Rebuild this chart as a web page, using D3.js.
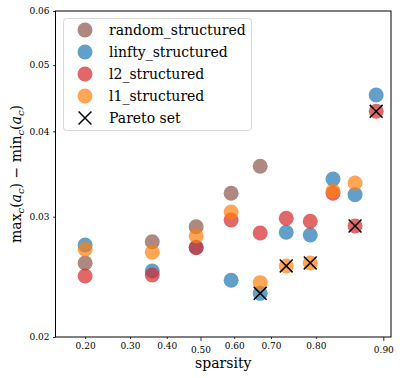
<!DOCTYPE html>
<html>
<head>
<meta charset="utf-8">
<script src="https://cdn.jsdelivr.net/npm/d3@7"></script>
<style>
  body { margin: 0; background: #fff; }
</style>
</head>
<body>
<div id="plot"></div>
<script>
// sparsity levels
let sparsity = [0.20, 0.359, 0.487, 0.591, 0.672, 0.737, 0.789, 0.831, 0.865, 0.892];

let randomY = [0.02566, 0.02757, 0.02900, 0.03246, 0.03555];
let linftyY = [0.02727, 0.02498, 0.02706, 0.02421, 0.02317, 0.02846, 0.02820, 0.03406, 0.03231, 0.04521];
let l2Y     = [0.02457, 0.02465, 0.02702, 0.02967, 0.02840, 0.02984, 0.02954, 0.03246, 0.02907, 0.04279];
let l1Y     = [0.02688, 0.02661, 0.02811, 0.03048, 0.02402, 0.02541, 0.02567, 0.03271, 0.03361];

let paretoX = [0.672, 0.737, 0.789, 0.865, 0.892];
let paretoY = [0.02317, 0.02541, 0.02567, 0.02907, 0.04279];

let seriesNames = ['random_structured', 'linfty_structured', 'l2_structured', 'l1_structured'];
let seriesColors = ['#8c564b', '#1f77b4', '#d62728', '#ff7f0e'];

let xMinorTicks = [0.20, 0.30, 0.40, 0.60, 0.70, 0.80];
let xMajorTicks = [0.50, 0.90];
let yTicks = [0.02, 0.03, 0.04, 0.05, 0.06];

let width = 400, height = 378;
let margin = { top: 11, bottom: 41, left: 55.5, right: 9 };
let serif = '"DejaVu Serif", serif';

let logit = p => Math.log(p / (1 - p));

let svg = d3.select('#plot')
  .append('svg')
  .attr('width', width)
  .attr('height', height)
  .style('font-family', serif);

// logit scale: linear scale on logit(p)
let xLin = d3.scaleLinear()
  .domain([logit(0.149), logit(0.908)])
  .range([margin.left, width - margin.right]);
let x = p => xLin(logit(p));

let yScale = d3.scaleLog()
  .domain([0.02, 0.06])
  .range([height - margin.bottom, margin.top]);

let fmt = d3.format('.2f');

// axes
let xMinor = svg.append('g')
  .attr('transform', `translate(0,${height - margin.bottom})`)
  .call(d3.axisBottom(xLin).tickValues(xMinorTicks.map(logit))
    .tickFormat(d => fmt(1 / (1 + Math.exp(-d)))).tickSize(2).tickPadding(4));
let xMajor = svg.append('g')
  .attr('transform', `translate(0,${height - margin.bottom})`)
  .call(d3.axisBottom(xLin).tickValues(xMajorTicks.map(logit))
    .tickFormat(d => fmt(1 / (1 + Math.exp(-d)))).tickSize(4).tickPadding(5.5));
let yAxis = svg.append('g')
  .attr('transform', `translate(${margin.left},0)`)
  .call(d3.axisLeft(yScale).tickValues(yTicks).tickFormat(fmt).tickSize(2.5).tickPadding(3.5));

svg.selectAll('.domain').remove();
svg.selectAll('.tick line').attr('stroke', '#000').attr('stroke-width', 0.8);
svg.selectAll('.tick text')
  .style('font-family', serif)
  .attr('font-size', 9)
  .attr('fill', '#000');

// frame
svg.append('rect')
  .attr('x', margin.left)
  .attr('y', margin.top)
  .attr('width', width - margin.right - margin.left)
  .attr('height', height - margin.bottom - margin.top)
  .attr('fill', 'none')
  .attr('stroke', '#000')
  .attr('stroke-width', 1);

// points
let allY = [randomY, linftyY, l2Y, l1Y];
allY.forEach((vals, s) => {
  svg.append('g')
    .selectAll('circle')
    .data(vals)
    .enter()
    .append('circle')
    .attr('cx', (d, i) => x(sparsity[i]))
    .attr('cy', d => yScale(d))
    .attr('r', 7.5)
    .attr('fill', seriesColors[s])
    .attr('fill-opacity', 0.7);
});

// pareto crosses
let cross = d3.symbol().type(d3.symbolX).size(110);
svg.append('g')
  .selectAll('path')
  .data(paretoY)
  .enter()
  .append('path')
  .attr('transform', (d, i) => `translate(${x(paretoX[i])},${yScale(d)})`)
  .attr('d', cross)
  .attr('fill', 'none')
  .attr('stroke', '#000')
  .attr('stroke-width', 1.5);

// legend
let legend = svg.append('g');
legend.append('rect')
  .attr('x', 63.5).attr('y', 18.5)
  .attr('width', 188).attr('height', 112)
  .attr('rx', 3)
  .attr('fill', '#fff').attr('fill-opacity', 0.8)
  .attr('stroke', '#d8d8d8');
let legendNames = seriesNames.concat(['Pareto set']);
legendNames.forEach((name, i) => {
  let ly = 30 + i * 22;
  if (i < 4) {
    legend.append('circle')
      .attr('cx', 85).attr('cy', ly).attr('r', 7.5)
      .attr('fill', seriesColors[i]).attr('fill-opacity', 0.7);
  } else {
    legend.append('path')
      .attr('transform', `translate(85,${ly})`)
      .attr('d', cross)
      .attr('fill', 'none').attr('stroke', '#000').attr('stroke-width', 1.5);
  }
  legend.append('text')
    .attr('x', 109).attr('y', ly)
    .attr('dy', '0.35em')
    .style('font-family', serif)
    .attr('font-size', 14)
    .text(name);
});

// axis labels
svg.append('text')
  .attr('x', (margin.left + width - margin.right) / 2)
  .attr('y', 368)
  .attr('text-anchor', 'middle')
  .style('font-family', serif)
  .attr('font-size', 14)
  .text('sparsity');

let yl = svg.append('text')
  .attr('transform', `translate(21,${(margin.top + height - margin.bottom) / 2}) rotate(-90)`)
  .attr('text-anchor', 'middle')
  .style('font-family', serif)
  .attr('font-size', 14);
let parts = [
  ['max', 'normal', false], ['c', 'italic', true], ['(', 'normal', false],
  ['a', 'italic', false], ['c', 'italic', true], [') − min', 'normal', false],
  ['c', 'italic', true], ['(', 'normal', false], ['a', 'italic', false],
  ['c', 'italic', true], [')', 'normal', false]
];
let wasSub = false;
parts.forEach(([t, style, sub]) => {
  let dy = sub && !wasSub ? 3 : (!sub && wasSub ? -3 : 0);
  yl.append('tspan')
    .attr('font-style', style)
    .attr('font-size', sub ? 10 : 14)
    .attr('dy', dy)
    .text(t);
  wasSub = sub;
});
</script>
</body>
</html>
